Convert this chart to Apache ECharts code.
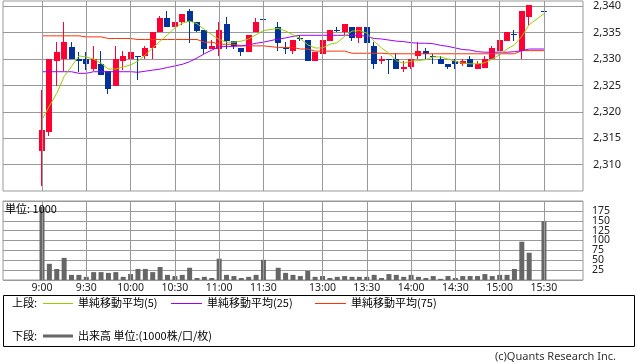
<!DOCTYPE html>
<html><head><meta charset="utf-8">
<script src="https://cdn.jsdelivr.net/npm/echarts@6/dist/echarts.min.js"></script>
<style>html,body{margin:0;padding:0;background:#fff}#c{width:638px;height:362px}</style>
</head><body><div id="c"></div>
<script>
const times = ['9:00','9:05','9:10','9:15','9:20','9:25','9:30','9:35','9:40','9:45','9:50','9:55',
'10:00','10:05','10:10','10:15','10:20','10:25','10:30','10:35','10:40','10:45','10:50','10:55',
'11:00','11:05','11:10','11:15','11:20','11:25','11:30','',
'12:30','12:35','12:40','12:45','12:50','12:55','13:00','13:05','13:10','13:15','13:20','13:25',
'13:30','13:35','13:40','13:45','13:50','13:55','14:00','14:05','14:10','14:15','14:20','14:25',
'14:30','14:35','14:40','14:45','14:50','14:55','15:00','15:05','15:10','15:15','15:20','15:25','15:30'];
const tickLabels = ['9:00','9:30','10:00','10:30','11:00','11:30','13:00','13:30','14:00','14:30','15:00','15:30'];
const priceTicks = [2310,2315,2320,2325,2330,2335,2340];
const volumeTicksA = [50,100,150];
const volumeTicksB = [25,75,125,175];

const open = [2312.5,2316.1,2329.6,2330,2332.2,2330,2330,2328.1,2329.1,2327.7,
2324.9,2329.6,2330,2330.6,2330.6,2332.1,2335.1,2337.7,2336.0,2337.0,
2339.2,2337.0,2335.6,2332.0,2332.0,2336.7,2333.5,2332.1,2331.4,2335.1,
2337.6,null,2336.1,2332.1,2331.5,2334.0,2333.7,2329.6,2331.0,2333.5,
2335.6,2335.1,2336.1,2334.0,2336.1,2332.5,2329.6,2330,2330,2328.1,
2328.5,2330.5,2331.6,2330.5,2330,2329.1,2329.6,2329.1,2330,2328.1,
2328.4,2330,2331.5,2333.5,2334.7,2331.5,2338.0,null,2339.1];
const close = [2316.6,2330,2331.3,2333.2,2330,2329.6,2329.1,2330,2327,2324.4,
2330,2330.6,2331.3,2330.6,2332.1,2335.1,2337.7,2336.0,2337.0,2338.6,
2337.0,2335.4,2332.0,2332.5,2335.6,2333.5,2332.5,2331.4,2334.6,2337.0,
2337.6,null,2333.0,2332.1,2333.7,2334.0,2329.6,2331.3,2333.7,2335.6,
2335.6,2336.7,2334.0,2336.1,2333.0,2329.1,2330,2330,2328.1,2328.5,
2330,2331.6,2331.0,2330.5,2329.1,2328.5,2329.1,2329.6,2328.5,2329.1,
2330,2332.1,2333.7,2335.1,2334.7,2339.1,2340.2,null,2339.1];
const low = [2306,2315.4,2324.9,2327.7,2330,2327.5,2328,2327.7,2327,2323.4,
2324.9,2328,2327.7,2326,2330,2330,2335.1,2336,2336,2336.5,
2333.0,2335.2,2331.0,2332.0,2330.5,2332.0,2332.0,2330.5,2331.4,2335.1,
2337.6,null,2331.5,2331.0,2331.0,2333.5,2329.6,2329.6,2331.0,2333.5,
2335.1,2334.6,2333.5,2333.0,2333.0,2328.1,2329.1,2327.1,2328.1,2327.5,
2328.1,2330,2330,2329.1,2329.1,2328.1,2328.1,2328.6,2328.5,2328.1,
2328.4,2330,2331.5,2333.5,2333.5,2330,2336.5,null,2339.1];
const high = [2324.2,2330,2333.2,2337.1,2333.2,2331.3,2331.3,2332.5,2331.6,2327.7,
2332.5,2331.6,2332.5,2330.6,2332.5,2335.1,2338.1,2339.2,2337.0,2338.6,
2339.5,2337.0,2335.6,2333.7,2337.0,2338.0,2333.5,2332.1,2334.6,2337.7,
2337.6,null,2337.0,2333.2,2333.7,2334.6,2333.7,2331.3,2334.0,2335.6,
2336.1,2336.7,2336.1,2336.1,2336.1,2333.2,2330.5,2330,2331.1,2329.6,
2330,2333.2,2332.1,2331.0,2330.5,2329.1,2330,2330,2330.6,2329.6,
2330.5,2332.5,2333.7,2335.1,2335.6,2339.1,2340.2,null,2339.1];
const volume = [185,41,28,56,13,13,8,20,20,18,
20,8,15,28,28,20,33,13,10,13,
31,5,8,5,54,13,10,5,8,13,
51,null,31,18,13,10,23,8,10,5,
8,10,8,8,8,13,5,15,13,8,
13,8,5,10,3,10,5,10,10,10,
15,10,13,13,28,97,69,null,149];
const ma5 = [2318.5,2321.1,2323.5,2326.7,2328.6,2330.6,2330.4,2330.0,2329.2,2328.1,
2328.1,2328.5,2328.9,2329.6,2330.8,2332.1,2333.4,2334.6,2335.9,2336.8,
2337.2,2336.7,2335.6,2334.6,2333.7,2333.2,2333.2,2333.4,2333.8,2334.6,
2335.4,null,2335.8,2335.3,2334.6,2333.9,2332.7,2332.1,2332.1,2332.8,
2333.1,2334.3,2335.3,2335.4,2334.9,2333.4,2332.1,2331.1,2329.7,2329.2,
2329.6,2329.7,2329.9,2330.4,2330.4,2330.0,2329.6,2329.2,2329.1,2329.1,
2329.3,2330.0,2330.8,2331.9,2332.7,2334.3,2336.5,null,2338.6];
const ma25 = [2327.6,2327.6,2327.6,2327.6,2327.6,2327.3,2327.3,2327.6,2327.6,2327.6,
2327.6,2327.6,2327.6,2327.5,2327.7,2327.9,2328.1,2328.4,2328.7,2329.0,
2329.5,2330.2,2331.0,2331.7,2332.3,2332.4,2332.4,2332.5,2332.7,2333.0,
2333.2,null,2333.8,2334.0,2334.3,2334.5,2334.5,2334.5,2334.5,2334.5,
2334.5,2334.5,2334.5,2334.5,2334.3,2333.9,2333.8,2333.6,2333.4,2333.3,
2333.1,2333.0,2333.0,2332.9,2332.6,2332.4,2332.1,2331.8,2331.7,2331.4,
2331.3,2331.3,2331.3,2331.3,2331.4,2331.6,2331.9,null,2331.9];
const ma75 = [2334.4,2334.4,2334.4,2334.4,2334.4,2334.4,2334.2,2334.2,2334.2,2333.9,
2333.9,2333.9,2333.9,2333.7,2333.7,2333.7,2333.7,2333.7,2333.7,2333.7,
2333.7,2333.7,2333.2,2333.2,2332.8,2332.8,2332.8,2332.5,2332.5,2332.5,
2332.5,null,2332.2,2332.2,2332.2,2331.9,2331.9,2331.5,2331.5,2331.5,
2331.5,2331.5,2331.1,2331.1,2331.1,2331.1,2331.1,2331.0,2331.0,2331.0,
2331.0,2331.0,2331.0,2331.0,2331.0,2331.0,2331.0,2331.0,2331.0,2331.0,
2331.0,2331.0,2331.0,2331.0,2331.0,2331.6,2331.6,null,2331.6];

const UP = '#ff0033', DOWN = '#003399', GRID = '#999999';
const tickIdx = tickLabels.map(t => times.indexOf(t));
const pair = arr => arr.map((v, i) => [i, v]);
const candleData = [];
times.forEach((t, i) => { if (open[i] != null) candleData.push([i, open[i], close[i], low[i], high[i]]); });

const xMin = -5.283, xMax = 73.29;
const vLines = tickIdx.map(i => ({ xAxis: i }));
const vLineStyle = { color: GRID, width: 1, type: 'solid' };

const chart = echarts.init(document.getElementById('c'));
const labelFont = { fontFamily: 'Noto Sans', fontSize: 11, color: '#222' };
const volLabel = { fontFamily: 'Noto Sans', fontSize: 10.5, color: '#222', margin: 9, interval: 0, hideOverlap: false };
chart.setOption({
  animation: false,
  grid: [
    { left: 3, top: 1, width: 580, height: 190, show: true, borderColor: GRID, borderWidth: 1 },
    { left: 3, top: 201, width: 580, height: 79, show: true, borderColor: GRID, borderWidth: 1 }
  ],
  xAxis: [
    { type: 'value', gridIndex: 0, min: xMin, max: xMax, axisLine: { show: false }, axisTick: { show: false },
      axisLabel: { show: false }, splitLine: { show: false } },
    { type: 'value', gridIndex: 1, min: xMin, max: xMax, axisLine: { show: false }, axisTick: { show: false },
      splitLine: { show: false },
      axisLabel: { customValues: tickIdx, formatter: v => times[Math.round(v)] || '', margin: 3, interval: 0, hideOverlap: false,
        fontFamily: 'Noto Sans', fontSize: 10.5, color: '#222' } }
  ],
  yAxis: [
    { type: 'value', gridIndex: 0, position: 'right', min: 2305, max: 2341, interval: 5,
      axisLine: { show: false },
      axisTick: { show: true, length: 5, lineStyle: { color: GRID }, customValues: priceTicks },
      axisLabel: Object.assign({ margin: 10, customValues: priceTicks, interval: 0, hideOverlap: false, formatter: v => echarts.format.addCommas(v) }, labelFont),
      splitLine: { show: true, lineStyle: { color: GRID, width: 1 } } },
    { type: 'value', gridIndex: 1, position: 'right', min: 0, max: 200, interval: 25,
      axisLine: { show: false },
      axisTick: { show: true, length: 4, lineStyle: { color: GRID } },
      axisLabel: Object.assign({ customValues: volumeTicksA }, volLabel),
      splitLine: { show: true, lineStyle: { color: GRID, width: 1 } } },
    { type: 'value', gridIndex: 1, position: 'right', min: 0, max: 200, interval: 25,
      axisLine: { show: false }, axisTick: { show: false }, splitLine: { show: false },
      axisLabel: Object.assign({ customValues: volumeTicksB }, volLabel) }
  ],
  series: [
    { type: 'line', xAxisIndex: 0, yAxisIndex: 0, data: [], z: 0, silent: true,
      markLine: { silent: true, symbol: 'none', label: { show: false }, lineStyle: vLineStyle, data: vLines, animation: false } },
    { type: 'line', xAxisIndex: 1, yAxisIndex: 1, data: [], z: 0, silent: true,
      markLine: { silent: true, symbol: 'none', label: { show: false }, lineStyle: vLineStyle, data: vLines, animation: false } },
    { type: 'custom', name: 'price', xAxisIndex: 0, yAxisIndex: 0, z: 3,
      encode: { x: 0, y: [1, 2, 3, 4] },
      data: candleData,
      renderItem: function (params, api) {
        const x = api.value(0), o = api.value(1), c = api.value(2), l = api.value(3), h = api.value(4);
        const cx = api.coord([x, o])[0];
        const yo = api.coord([x, o])[1], yc = api.coord([x, c])[1];
        const yl = api.coord([x, l])[1], yh = api.coord([x, h])[1];
        const color = c > o ? UP : DOWN;
        const x0 = Math.round(cx - 3);
        let top = Math.round(Math.min(yo, yc)), bot = Math.round(Math.max(yo, yc));
        if (bot - top < 1) bot = top + 1;
        return { type: 'group', children: [
          { type: 'rect', shape: { x: x0 + 2, y: Math.round(yh), width: 1, height: Math.max(1, Math.round(yl) - Math.round(yh)) }, style: { fill: color } },
          { type: 'rect', shape: { x: x0, y: top, width: 6, height: bot - top }, style: { fill: color } }
        ] };
      } },
    { type: 'line', name: '単純移動平均(75)', xAxisIndex: 0, yAxisIndex: 0, data: pair(ma75), showSymbol: false, connectNulls: true, z: 4,
      lineStyle: { color: '#ff3300', width: 1 } },
    { type: 'line', name: '単純移動平均(25)', xAxisIndex: 0, yAxisIndex: 0, data: pair(ma25), showSymbol: false, connectNulls: true, z: 4,
      lineStyle: { color: '#9900ff', width: 1 } },
    { type: 'line', name: '単純移動平均(5)', xAxisIndex: 0, yAxisIndex: 0, data: pair(ma5), showSymbol: false, connectNulls: true, z: 4,
      lineStyle: { color: '#99cc00', width: 1 } },
    { type: 'bar', name: '出来高', xAxisIndex: 1, yAxisIndex: 1, data: pair(volume), barWidth: 5, z: 3,
      itemStyle: { color: '#666666' } }
  ],
  graphic: [
    { type: 'text', left: 5, top: 203, z: 10, style: { text: '単位: 1000', font: '11px "Noto Sans CJK JP"', fill: '#000' } },
    { type: 'rect', shape: { x: 3.5, y: 295.5, width: 631, height: 51 }, style: { fill: 'none', stroke: '#000', lineWidth: 1 } },
    { type: 'text', x: 12, y: 303, style: { text: '上段:', font: '11px "Noto Sans CJK JP"', fill: '#000', verticalAlign: 'middle' } },
    { type: 'line', shape: { x1: 43, y1: 303.5, x2: 73, y2: 303.5 }, style: { stroke: '#99cc00', lineWidth: 1 } },
    { type: 'text', x: 78, y: 303, style: { text: '単純移動平均(5)', font: '11px "Noto Sans CJK JP"', fill: '#000', verticalAlign: 'middle' } },
    { type: 'line', shape: { x1: 171, y1: 303.5, x2: 202, y2: 303.5 }, style: { stroke: '#9900ff', lineWidth: 1 } },
    { type: 'text', x: 207, y: 303, style: { text: '単純移動平均(25)', font: '11px "Noto Sans CJK JP"', fill: '#000', verticalAlign: 'middle' } },
    { type: 'line', shape: { x1: 315, y1: 303.5, x2: 346, y2: 303.5 }, style: { stroke: '#ff3300', lineWidth: 1 } },
    { type: 'text', x: 351, y: 303, style: { text: '単純移動平均(75)', font: '11px "Noto Sans CJK JP"', fill: '#000', verticalAlign: 'middle' } },
    { type: 'text', x: 12, y: 336, style: { text: '下段:', font: '11px "Noto Sans CJK JP"', fill: '#000', verticalAlign: 'middle' } },
    { type: 'line', shape: { x1: 43, y1: 336, x2: 73, y2: 336 }, style: { stroke: '#666666', lineWidth: 3 } },
    { type: 'text', x: 78, y: 336, style: { text: '出来高 単位:(1000株/口/枚)', font: '11px "Noto Sans CJK JP"', fill: '#000', verticalAlign: 'middle' } },
    { type: 'text', x: 616, y: 357, style: { text: '(c)Quants Research Inc.', font: '11px "Noto Sans"', fill: '#333', align: 'right', verticalAlign: 'middle' } }
  ]
});
</script></body></html>
